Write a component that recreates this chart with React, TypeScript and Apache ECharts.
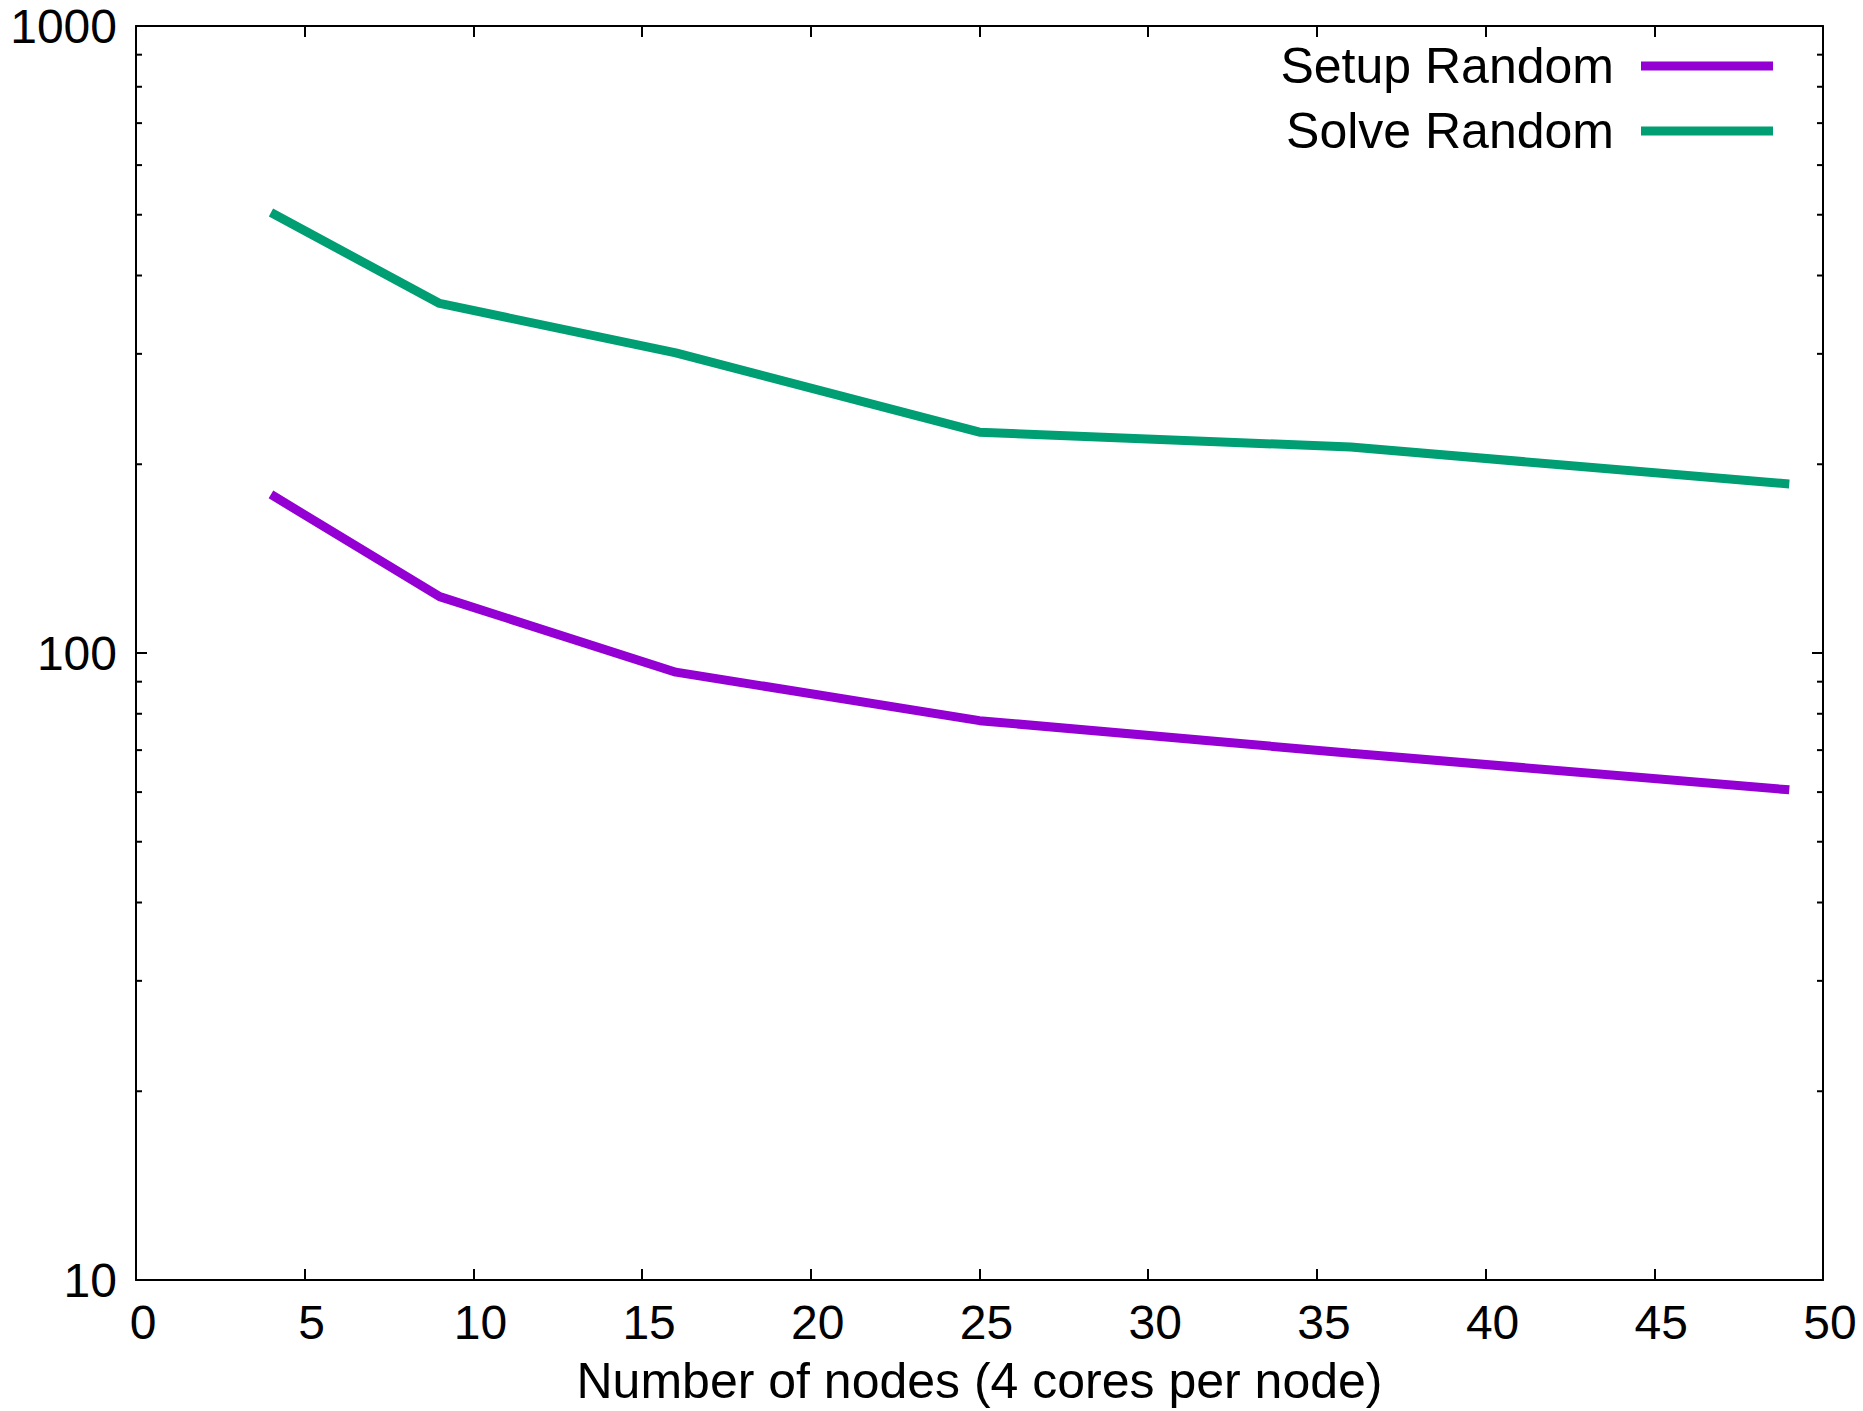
import React, { useEffect, useRef } from "react";
import * as echarts from "echarts";

const nodes = [4, 9, 16, 25, 36, 49];
const setupRandom = [179, 123, 93.2, 78, 69.2, 60.5];
const solveRandom = [504, 361, 301, 225, 213, 186];
const seriesNames = ["Setup Random", "Solve Random"];
const seriesColors = ["#9400d3", "#009e73"];
const minorTickValues = [20, 30, 40, 50, 60, 70, 80, 90, 200, 300, 400, 500, 600, 700, 800, 900];
const xTitle = "Number of nodes (4 cores per node)";

const FONT = "'Liberation Sans', Arial, Helvetica, sans-serif";

export default function App() {
  const ref = useRef<HTMLDivElement>(null);
  useEffect(() => {
    document.body.style.margin = "0";
    const chart = echarts.init(ref.current!, null, { renderer: "svg" });
    const axisLineStyle = { color: "#000", width: 2 };
    const option: any = {
      animation: false,
      backgroundColor: "#fff",
      grid: { left: 136, right: 40, top: 21, bottom: 128, containLabel: false },
      legend: {
        orient: "vertical",
        right: 85,
        top: 36,
        align: "right",
        icon: "rect",
        itemWidth: 132,
        itemHeight: 9,
        itemGap: 15,
        data: seriesNames,
        textStyle: {
          fontFamily: FONT,
          fontSize: 50,
          color: "#000",
          padding: [0, 22, 0, 0],
        },
      },
      xAxis: [
        {
          type: "value",
          min: 0,
          max: 50,
          interval: 5,
          position: "bottom",
          name: xTitle,
          nameLocation: "middle",
          nameGap: 76,
          nameTextStyle: { fontFamily: FONT, fontSize: 50, color: "#000" },
          axisLine: { show: true, onZero: false, lineStyle: axisLineStyle },
          axisTick: { show: true, inside: true, length: 11, lineStyle: axisLineStyle },
          axisLabel: {
            fontFamily: FONT,
            fontSize: 48,
            color: "#000",
            margin: 18,
            padding: [0, 0, 0, 14],
          },
          splitLine: { show: false },
        },
        {
          type: "value",
          min: 0,
          max: 50,
          interval: 5,
          position: "top",
          axisLine: { show: true, onZero: false, lineStyle: axisLineStyle },
          axisTick: { show: true, inside: true, length: 11, lineStyle: axisLineStyle },
          axisLabel: { show: false },
          splitLine: { show: false },
        },
      ],
      yAxis: [
        {
          type: "log",
          logBase: 10,
          min: 10,
          max: 1000,
          position: "left",
          axisLine: { show: true, onZero: false, lineStyle: axisLineStyle },
          axisTick: { show: true, inside: true, length: 11, lineStyle: axisLineStyle },
          axisLabel: {
            fontFamily: FONT,
            fontSize: 48,
            lineHeight: 40,
            color: "#000",
            margin: 19,
            padding: [12, 0, 0, 0],
            formatter: (v: number) => String(Math.round(v)),
          },
          splitLine: { show: false },
        },
        {
          type: "log",
          logBase: 10,
          min: 10,
          max: 1000,
          position: "right",
          axisLine: { show: true, onZero: false, lineStyle: axisLineStyle },
          axisTick: { show: true, inside: true, length: 11, lineStyle: axisLineStyle },
          axisLabel: { show: false },
          splitLine: { show: false },
        },
      ],
      series: [
        {
          name: seriesNames[0],
          type: "line",
          data: nodes.map((n, i) => [n, setupRandom[i]]),
          symbol: "none",
          color: seriesColors[0],
          lineStyle: { width: 9, color: seriesColors[0] },
        },
        {
          name: seriesNames[1],
          type: "line",
          data: nodes.map((n, i) => [n, solveRandom[i]]),
          symbol: "none",
          color: seriesColors[1],
          lineStyle: { width: 9, color: seriesColors[1] },
        },
        {
          name: "minorTicks",
          type: "custom",
          silent: true,
          data: minorTickValues.map((v) => [0, v]),
          encode: { x: 0, y: 1 },
          renderItem: (params: any, api: any) => {
            const cs = params.coordSys;
            const p = api.coord([0, api.value(1)]);
            const y = p[1];
            const style = { stroke: "#000", lineWidth: 2 };
            return {
              type: "group",
              children: [
                { type: "line", shape: { x1: cs.x, y1: y, x2: cs.x + 6, y2: y }, style },
                { type: "line", shape: { x1: cs.x + cs.width - 6, y1: y, x2: cs.x + cs.width, y2: y }, style },
              ],
            };
          },
        },
      ],
    };
    chart.setOption(option);
    return () => chart.dispose();
  }, []);
  return <div ref={ref} style={{ width: 1863, height: 1411 }} />;
}
